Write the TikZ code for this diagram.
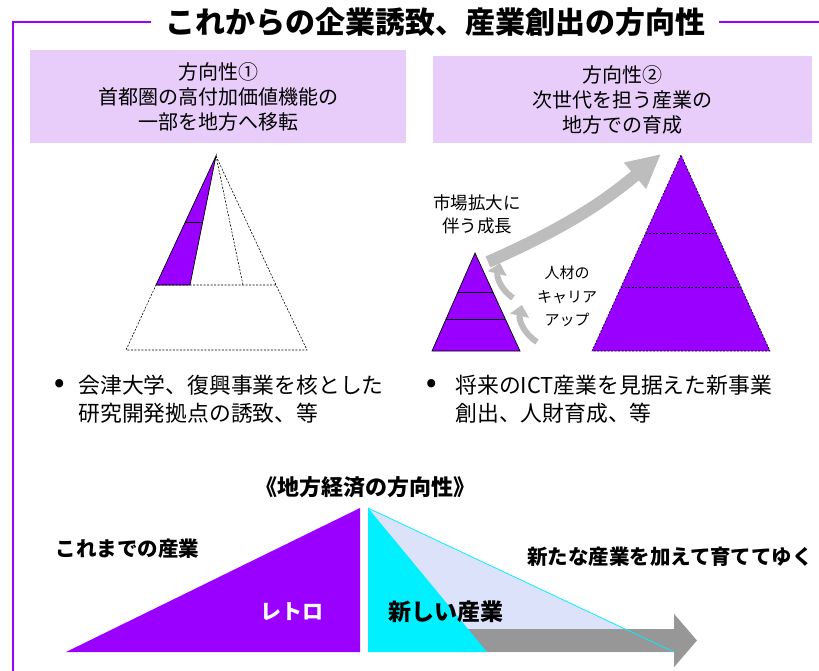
\documentclass[tikz,border=0pt]{standalone}
\usepackage{fontspec}
\setmainfont{Noto Sans CJK JP}
\usetikzlibrary{positioning,calc,arrows.meta}
\definecolor{vio}{HTML}{9900FF}
\definecolor{lilac}{HTML}{E8CCFA}
\definecolor{paleblue}{HTML}{DDE2FB}
\definecolor{aqua}{HTML}{00F0FF}
\definecolor{softgray}{HTML}{BDBDBD}
\definecolor{flowgray}{HTML}{979797}
\begin{document}
\begin{tikzpicture}[x=1pt, y=-1pt,
  dirbox/.style={fill=lilac, align=center, font=\fontsize{20}{25}\selectfont},
  bodytext/.style={align=left, anchor=west, font=\fontsize{21.8}{28}\selectfont},
  boldtext/.style={font=\bfseries\fontsize{20.5}{24}\selectfont},
  tierdash/.style={dash pattern=on 2pt off 1.5pt, line width=.6pt},
  growarrow/.style={draw=softgray, line width=12pt, -{Triangle[length=34pt,width=32pt]}},
  careerarrow/.style={draw=softgray, line width=6pt, -{Triangle[length=11pt,width=19pt]}},
  flowarrow/.style={draw=flowgray, line width=23pt, -{Triangle[length=23pt,width=52pt]}}]
  \useasboundingbox (0,0) rectangle (819,671);

  % frame and title
  \node[font=\bfseries\fontsize{30}{34}\selectfont] (title) at (435,22) {これからの企業誘致、産業創出の方向性};
  \coordinate (fTL) at (13,22);
  \coordinate (fB) at (13,671);
  \coordinate (fR) at (819,22);
  \draw[vio, line width=2pt] ([xshift=-10pt]title.west) -- (fTL) -- (fB);
  \draw[vio, line width=2pt] ([xshift=10pt]title.east) -- (fR);

  % direction boxes
  \node[dirbox, minimum width=376pt, minimum height=93pt] (dir1) at (218,96.5) {方向性①\\首都圏の高付加価値機能の\\一部を地方へ移転};
  \node[dirbox, minimum width=379pt, minimum height=87pt] (dir2) at (622.5,99.5) {方向性②\\次世代を担う産業の\\地方での育成};

  % pyramid 1
  \coordinate (A) at (216,156);
  \coordinate (BL) at (126,350);
  \coordinate (BR) at (307,350);
  \coordinate (ML) at (156,285);
  \coordinate (MR) at (276,285);
  \coordinate (S) at (190,285);
  \coordinate (D) at (243,285);
  \fill[vio] (A) -- (ML) -- (S) -- cycle;
  \draw[tierdash] (A) -- (MR) -- (BR) -- (BL) -- (ML) -- (MR);
  \draw[tierdash] (A) -- (D);
  \draw[line width=.7pt] (A) -- (ML) -- (S) -- cycle;
  \draw[line width=.7pt] ($(A)!0.512!(ML)$) -- ($(A)!0.512!(S)$);

  % pyramid 2, small and big
  \coordinate (sA) at (475,253);
  \coordinate (sL) at (432,351);
  \coordinate (sR) at (520,351);
  \filldraw[fill=vio, draw=black, line width=.7pt] (sA) -- (sL) -- (sR) -- cycle;
  \foreach \r in {0.398,0.673}
    \draw[line width=.7pt] ($(sA)!\r!(sL)$) -- ($(sA)!\r!(sR)$);
  \coordinate (bA) at (681,155);
  \coordinate (bL) at (592,351);
  \coordinate (bR) at (770,351);
  \fill[vio] (bA) -- (bL) -- (bR) -- cycle;
  \draw[tierdash] (bA) -- (bL) -- (bR) -- cycle;
  \foreach \r in {0.398,0.673}
    \draw[tierdash] ($(bA)!\r!(bL)$) -- ($(bA)!\r!(bR)$);

  % growth arrows
  \coordinate (g0) at (488,262);
  \coordinate (g1) at (661,154);
  \draw[growarrow] (g0) to[bend right=8] (g1);
  \coordinate (c1s) at (513,298);
  \coordinate (c1e) at (500,263);
  \coordinate (c2s) at (537,342);
  \coordinate (c2e) at (522,305);
  \draw[careerarrow] (c1s) to[bend left=35] (c1e);
  \draw[careerarrow] (c2s) to[bend left=35] (c2e);
  \node[align=center, font=\fontsize{17.5}{23}\selectfont] (market) at (477,214.5) {市場拡大に\\伴う成長};
  \node[align=center, font=\fontsize{15}{23.5}\selectfont] (career) at (567,296.5) {人材の\\キャリア\\アップ};

  % bullets
  \node[font=\bfseries\fontsize{26}{28}\selectfont] (dot1) at (60,385) {•};
  \node[bodytext] (lead1) at (75,399) {会津大学、復興事業を核とした\\研究開発拠点の誘致、等};
  \node[font=\bfseries\fontsize{26}{28}\selectfont] (dot2) at (432,385) {•};
  \node[bodytext] (lead2) at (452,399) {将来のICT産業を見据えた新事業\\創出、人財育成、等};

  % regional economy
  \node[font=\bfseries\fontsize{22}{26}\selectfont] (econ) at (365,487) {《地方経済の方向性》};
  \coordinate (rL) at (66,652);
  \coordinate (rT) at (360,508);
  \coordinate (rB) at (360,652);
  \fill[vio] (rL) -- (rT) -- (rB) -- cycle;
  \coordinate (nT) at (368,508);
  \coordinate (nB) at (368,652);
  \coordinate (nR) at (674,652);
  \coordinate (nC) at (487,652);
  \fill[paleblue] (nT) -- (nB) -- (nR) -- cycle;
  \coordinate (f0) at (455,640.5);
  \coordinate (f1) at (697,640.5);
  \draw[flowarrow] (f0) -- (f1);
  \draw[aqua, line width=.8pt] (nT) -- (nR);
  \fill[aqua] (nT) -- (nB) -- (nC) -- cycle;
  \node[boldtext] (old) at (127.5,549) {これまでの産業};
  \node[boldtext, text=white, font=\bfseries\fontsize{21}{24}\selectfont] (retro) at (292,612) {レトロ};
  \node[boldtext, font=\bfseries\fontsize{23}{26}\selectfont] (new) at (446,612) {新しい産業};
  \node[boldtext] (grow) at (670,557) {新たな産業を加えて育ててゆく};
\end{tikzpicture}
\end{document}
